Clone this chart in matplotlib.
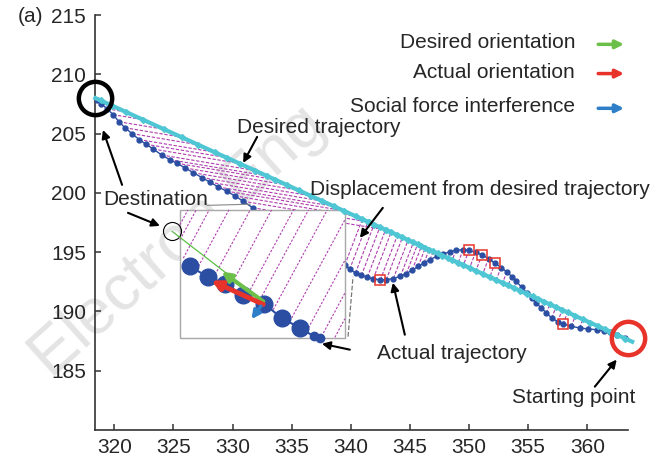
import numpy as np
import matplotlib.pyplot as plt
from matplotlib.patches import Rectangle

plt.rcParams['font.family'] = ['Liberation Sans', 'DejaVu Sans']

# desired (straight) trajectory: destination -> starting point
desired_x = [318.4, 363.8]
desired_y = [208.0, 187.45]

# actual trajectory near the destination, and the desired points each one is tied to
act_left_x = [318.5, 318.9, 319.4, 319.9, 320.4, 320.9, 321.5, 322.1, 322.7, 323.3, 324.0,
              324.7, 325.3, 326.0, 326.7, 327.4, 328.1, 328.8, 329.5, 330.2, 330.9, 331.7]
act_left_y = [207.85, 207.5, 207.1, 206.6, 206.0, 205.5, 205.0, 204.5, 204.1, 203.7, 203.2,
              202.8, 202.5, 202.1, 201.7, 201.3, 200.9, 200.5, 200.15, 199.75, 199.3, 198.75]
des_left_x = [318.85, 319.85, 321.0, 322.4, 324.2, 325.7, 327.1, 328.5, 329.5, 330.6, 331.9,
              332.9, 333.6, 334.6, 335.6, 336.6, 337.6, 338.6, 339.4, 340.4, 341.5, 343.0]
des_left_y = [207.80, 207.34, 206.82, 206.19, 205.37, 204.70, 204.06, 203.43, 202.98, 202.48, 201.89,
              201.44, 201.12, 200.67, 200.22, 199.76, 199.31, 198.86, 198.50, 198.04, 197.55, 196.87]

# actual trajectory near the starting point
act_right_x = [339.5, 339.9, 340.4, 340.9, 341.4, 341.9, 342.5, 343.0, 343.6, 344.2, 344.7, 345.2,
               345.7, 346.2, 346.7, 347.25, 347.8, 348.4, 348.9, 349.5, 350.0, 350.55, 351.1,
               351.65, 352.2, 352.7, 353.2, 353.6, 354.0, 354.45, 354.9, 355.3, 355.7, 356.1,
               356.55, 357.0, 357.5, 357.95, 358.65, 359.35, 360.05, 360.8, 361.4, 361.9, 362.5, 363.2]
act_right_y = [193.94, 193.55, 193.25, 193.05, 192.9, 192.75, 192.67, 192.68, 192.78, 192.98, 193.2,
               193.5, 193.8, 194.12, 194.38, 194.64, 194.85, 195.05, 195.17, 195.2, 195.15, 194.98,
               194.78, 194.45, 194.08, 193.7, 193.35, 192.95, 192.53, 192.05, 191.55, 191.1, 190.71,
               190.3, 189.87, 189.45, 189.15, 188.94, 188.75, 188.61, 188.53, 188.46, 188.35, 188.24,
               188.04, 187.75]
des_right_x = [340.98, 341.45, 341.97, 342.46, 342.94, 343.41, 343.95, 344.37, 344.85, 345.30, 345.65,
               345.98, 346.30, 346.63, 346.97, 347.35, 347.75, 348.19, 348.58, 349.08, 349.52, 350.05,
               350.58, 351.16, 351.75, 352.30, 352.84, 353.31, 353.79, 354.33, 354.88, 355.37, 355.83,
               356.31, 356.83, 357.35, 357.88, 358.33, 358.99, 359.63, 360.25, 360.91, 361.46, 361.92,
               362.50, 363.20]
des_right_y = [197.78, 197.57, 197.33, 197.11, 196.89, 196.68, 196.44, 196.25, 196.03, 195.83, 195.67,
               195.52, 195.37, 195.22, 195.07, 194.90, 194.72, 194.52, 194.34, 194.11, 193.92, 193.68,
               193.44, 193.17, 192.91, 192.66, 192.41, 192.20, 191.98, 191.74, 191.49, 191.27, 191.06,
               190.84, 190.61, 190.37, 190.13, 189.93, 189.63, 189.34, 189.06, 188.76, 188.51, 188.30,
               188.04, 187.72]

# social-force interference points (red squares)
sq_x = [342.46, 350.01, 351.11, 352.18, 357.95]
sq_y = [192.67, 195.2, 194.78, 194.08, 188.94]

# magnified view
zoom_box = [325.55, 187.76, 339.50, 198.57]  # x0, y0, x1, y1
big_x = [326.40, 327.95, 329.36, 330.85, 332.68, 334.15, 335.70]
big_y = [193.80, 192.90, 192.34, 191.41, 190.65, 189.45, 188.61]
small_x = [336.9, 337.4]
small_y = [187.9, 187.8]
zh_x0 = [325.55, 325.55, 325.84, 326.96, 328.37, 329.78, 331.19, 332.32, 333.44, 334.85, 336.26, 337.53, 338.66]
zh_y0 = [197.31, 196.05, 194.50, 193.52, 192.82, 192.06, 191.27, 190.99, 190.15, 189.17, 188.32, 187.90, 187.82]
zh_x1 = [326.23, 326.93, 328.03, 329.70, 331.50, 333.30, 335.16, 336.43, 338.01, 339.50, 339.50, 339.50, 339.50]
zh_y1 = [198.57, 198.57, 198.57, 198.57, 198.57, 198.57, 198.57, 198.57, 198.57, 197.73, 194.31, 191.55, 189.39]

dest = (318.37, 208.0)
start = (363.44, 187.8)
sub_goal = (324.9, 196.75)

blue = '#2b4ea3'
cyan = '#4fc6d3'
mag = '#b03cb0'
txt = '#262626'

fig = plt.figure(figsize=(6.61, 4.57), dpi=100)
ax = fig.add_axes([0.143, 0.059, 0.807, 0.908])

# watermark
ax.text(0.27, 0.47, 'Electron Eng', transform=fig.transFigure, rotation=42,
        rotation_mode='anchor', ha='center', va='center', fontsize=47,
        color='#e4e4e4', zorder=0.5, clip_on=False)

# displacement lines
for xa, ya, xd, yd in zip(act_left_x + act_right_x, act_left_y + act_right_y,
                          des_left_x + des_right_x, des_left_y + des_right_y):
    ax.plot([xa, xd], [ya, yd], color=mag, lw=0.8, ls=(0, (3, 1.5)), zorder=2)

ax.plot(act_left_x, act_left_y, '-o', color=blue, lw=1.0, ms=3.5, zorder=3)
ax.plot(act_right_x, act_right_y, '-o', color=blue, lw=1.0, ms=3.5, zorder=3)
ax.plot(sq_x, sq_y, 's', mfc='none', mec='#e8332a', ms=7, mew=1.1, zorder=4)

# magnified view
rect = Rectangle((zoom_box[0], zoom_box[1]), zoom_box[2] - zoom_box[0], zoom_box[3] - zoom_box[1],
                 fc='white', ec='#a8a8a8', lw=1.0, zorder=5)
ax.add_patch(rect)
ax.plot([339.77, 340.19], [187.88, 192.93], color='#777777', lw=0.9, ls='--', zorder=5)
ax.plot([327.85, 331.5], [198.95, 199.05], color='#888888', lw=0.8, zorder=5)
for x0, y0, x1, y1 in zip(zh_x0, zh_y0, zh_x1, zh_y1):
    ax.plot([x0, x1], [y0, y1], color=mag, lw=0.8, ls=(0, (2, 1.5)), zorder=6)
ax.plot(big_x + small_x, big_y + small_y, '-', color=blue, lw=1.5, zorder=6.5)
ax.plot(big_x, big_y, 'o', color=blue, ms=12, zorder=7)
ax.plot(small_x, small_y, 'o', color=blue, ms=6, zorder=7)
ax.plot(*sub_goal, 'o', mfc='none', mec='k', ms=13, mew=0.8, zorder=7)
ax.plot([sub_goal[0], 332.7], [sub_goal[1], 190.75], color='#5cbf45', lw=0.9, zorder=7.5)
ax.annotate('', xy=(329.08, 193.37), xytext=(332.6, 190.85), zorder=8,
            arrowprops=dict(arrowstyle='-|>', color='#6cc04a', lw=3, mutation_scale=14, shrinkA=0, shrinkB=0))
ax.annotate('', xy=(328.2, 192.6), xytext=(332.6, 190.6), zorder=8,
            arrowprops=dict(arrowstyle='-|>', color='#e8332a', lw=3.5, mutation_scale=14, shrinkA=0, shrinkB=0))
ax.annotate('', xy=(331.6, 189.35), xytext=(332.4, 190.45), zorder=8,
            arrowprops=dict(arrowstyle='-|>', color='#2f7fc8', lw=2.5, mutation_scale=12, shrinkA=0, shrinkB=0))

# desired trajectory on top
ax.plot(desired_x, desired_y, color=cyan, lw=3, zorder=8, clip_on=False)
ax.plot(des_left_x + des_right_x, des_left_y + des_right_y, 'D', color=cyan, ms=3, zorder=8)

# destination / starting point rings
ax.plot(*dest, 'o', mfc='none', mec='k', ms=24, mew=3.2, zorder=9, clip_on=False)
ax.plot(*start, 'o', mfc='none', mec='#e8332a', ms=24, mew=3.2, zorder=9, clip_on=False)

# labels with arrows
arrow = dict(arrowstyle='-|>', color='k', lw=1.5, mutation_scale=12, shrinkA=0, shrinkB=0)
ax.text(330.39, 205.48, 'Desired trajectory', fontsize=15, color=txt, va='center', zorder=10)
ax.annotate('', xy=(330.9, 202.53), xytext=(332.08, 204.72), arrowprops=arrow, zorder=10)
ax.text(336.55, 200.26, 'Displacement from desired trajectory', fontsize=15, color=txt,
        va='center', zorder=10)
ax.annotate('', xy=(340.77, 196.21), xytext=(342.71, 198.74), arrowprops=arrow, zorder=10)
ax.text(319.04, 199.41, 'Destination', fontsize=15, color=txt, va='center', zorder=10)
ax.annotate('', xy=(319.04, 205.31), xytext=(320.66, 200.68), arrowprops=arrow, zorder=10)
ax.annotate('', xy=(323.86, 197.22), xytext=(321.16, 198.32), arrowprops=arrow, zorder=10)
ax.text(342.2, 186.44, 'Actual trajectory', fontsize=15, color=txt, va='center', zorder=10)
ax.annotate('', xy=(343.56, 192.42), xytext=(344.57, 188.04), arrowprops=arrow, zorder=10)
ax.annotate('', xy=(337.56, 187.28), xytext=(339.92, 186.78), arrowprops=arrow, zorder=10)
ax.text(353.61, 182.73, 'Starting point', fontsize=15, color=txt, va='center', zorder=10)
ax.annotate('', xy=(362.49, 185.94), xytext=(360.64, 183.66), arrowprops=arrow, zorder=10)

# key at the top right
key_names = ['Desired orientation', 'Actual orientation', 'Social force interference']
key_colors = ['#6cc04a', '#e8332a', '#2f7fc8']
key_y = [0.906, 0.842, 0.766]
for name, c, ky in zip(key_names, key_colors, key_y):
    fig.text(0.870, ky, name, fontsize=15, color=txt, ha='right', va='center')
    ax.annotate('', xy=(0.944, ky - 0.003), xytext=(0.905, ky - 0.003), xycoords='figure fraction',
                arrowprops=dict(arrowstyle='-|>', color=c, lw=2.5, mutation_scale=12,
                                shrinkA=0, shrinkB=0))

fig.text(0.027, 0.963, '(a)', fontsize=15, color=txt, va='center')

ax.set_xlim(318.33, 363.44)
ax.set_ylim(180, 215)
ax.set_xticks([320, 325, 330, 335, 340, 345, 350, 355, 360])
ax.set_yticks([185, 190, 195, 200, 205, 210, 215])
ax.spines['top'].set_visible(False)
ax.spines['right'].set_visible(False)
for s in ['left', 'bottom']:
    ax.spines[s].set_color('#333333')
    ax.spines[s].set_linewidth(1.2)
ax.tick_params(direction='in', length=4, width=1.1, labelsize=15, colors='#333333', pad=6)
for lab in ax.get_xticklabels() + ax.get_yticklabels():
    lab.set_color(txt)

fig.savefig('out.png', dpi=100)
